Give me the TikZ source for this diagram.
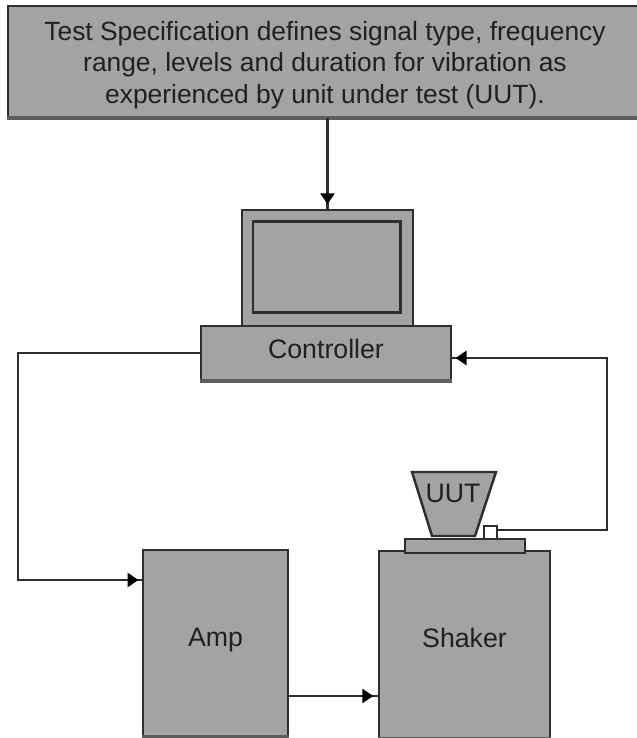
\documentclass[tikz,border=0pt]{standalone}
\usepackage{xcolor}
\usepackage{fontspec}
\setmainfont{Liberation Sans}
\usepackage{tikz}
\usetikzlibrary{shapes, arrows, arrows.meta, positioning, calc, decorations.markings}

\definecolor{boxgray}{HTML}{A3A3A3}
\definecolor{linegray}{HTML}{2E2E2E}
\definecolor{shadegray}{HTML}{5E5E5E}
\definecolor{textgray}{HTML}{202020}

\tikzset{
    block/.style={draw=linegray, fill=boxgray, line width=1.4pt, inner sep=0pt},
    boxtext/.style={text=textgray, inner sep=0pt, font=\fontsize{15.2}{17.8}\selectfont},
    wire/.style={draw=linegray, line width=1.6pt, postaction={decorate},
        decoration={markings, mark=at position -0.09cm with
            {\arrow[black]{Triangle[length=0.22cm, width=0.28cm]}}}},
    shade line/.style={draw=shadegray, line width=2pt}
}

\begin{document}
\begin{tikzpicture}[scale=1]
\useasboundingbox (0,0) rectangle (12.74,14.76);
\fill[white] (0,0) rectangle (12.74,14.76);

% Test specification
\node[block, minimum width=12.74cm, minimum height=2.22cm] (spec) at (6.53,13.53) {};
\node[boxtext, align=center, font=\fontsize{15}{17.8}\selectfont] (spectext) at ($(spec.center)+(-0.03,-0.07)$)
    {Test Specification defines signal type, frequency\\
     range, levels and duration for vibration as\\
     experienced by unit under test (UUT).};
\draw[shade line] (spec.south west) -- (spec.south east);

% Controller
\node[block, minimum width=3.42cm, minimum height=2.32cm] (monitor) at (6.55,9.4) {};
\node[block, line width=1.7pt, minimum width=2.94cm, minimum height=1.82cm] (screen) at (6.53,9.41) {};
\node[block, minimum width=5cm, minimum height=1.08cm] (controller) at (6.52,7.7) {};
\node[boxtext] (controllertext) at ($(controller.center)+(0,0.08)$) {Controller};
\draw[shade line] (controller.south west) -- (controller.south east);

% Amp and shaker
\node[block, minimum width=2.9cm, minimum height=3.72cm] (amp) at (4.31,1.9) {};
\node[boxtext] (amptext) at ($(amp.center)+(0,0.06)$) {Amp};
\draw[shade line] (amp.south west) -- (amp.south east);
\node[block, minimum width=3.42cm, minimum height=3.74cm] (shaker) at (9.29,1.87) {};
\node[boxtext] (shakertext) at ($(shaker.center)+(0,0.14)$) {Shaker};
\draw[shade line] (shaker.south west) -- (shaker.south east);
\node[block, minimum width=2.4cm, minimum height=0.28cm] (table) at (9.3,3.84) {};

% Unit under test
\draw[draw=linegray, fill=boxgray, line width=1.4pt] (8.24,5.32) -- (9.92,5.32) -- (9.5,4.04) -- (8.64,4.04) -- cycle;
\node[boxtext] (uut) at (9.06,4.9) {UUT};
\node[block, fill=white, minimum size=0.26cm] (sensor) at (9.81,4.11) {};

% Signal path
\coordinate (ampin) at (2.86,3.16);
\coordinate (ampout) at (5.76,0.84);
\coordinate (feedback) at (9.02,7.6);
\coordinate (leftturn) at (0.36,7.7);
\coordinate (rightturn) at (12.14,4.16);
\draw[wire] (monitor.north |- spec.south) -- (monitor.north);
\draw[wire] (controller.west) -- (leftturn) |- (ampin);
\draw[wire] (ampout) -- (ampout -| shaker.west);
\draw[wire] (sensor.east |- rightturn) -- (rightturn) |- (feedback);
\end{tikzpicture}
\end{document}
